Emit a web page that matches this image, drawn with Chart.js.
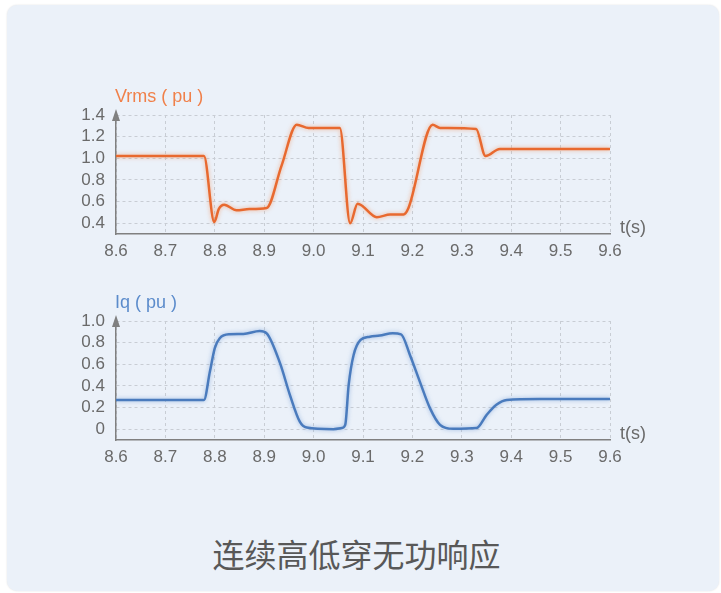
<!DOCTYPE html>
<html>
<head>
<meta charset="utf-8">
<script src="https://cdn.jsdelivr.net/npm/chart.js@4"></script>
<style>
  body { margin: 0; background: #fff; width: 721px; height: 593px; position: relative; overflow: hidden; }
  .card { position: absolute; left: 7px; top: 5px; width: 712px; height: 586px; background: #ebf1f9;
          border-radius: 10px; box-shadow: 0 0 2px rgba(0,0,0,0.12); }
  .box { position: absolute; left: 0; width: 721px; height: 190px; }
  .caption { position: absolute; left: 0; width: 713px; top: 530px; text-align: center; line-height: 44px;
             font: 32px "Noto Sans CJK SC", sans-serif; color: #585858; }
</style>
</head>
<body>
<div class="card"></div>
<div class="box" style="top:80px"><canvas id="vrmsChart"></canvas></div>
<div class="box" style="top:285px"><canvas id="iqChart"></canvas></div>
<div class="caption">连续高低穿无功响应</div>
<script>
// time axis
const xTicks = [8.6, 8.7, 8.8, 8.9, 9.0, 9.1, 9.2, 9.3, 9.4, 9.5, 9.6]

// Vrms (pu)
const vrmsT = [8.6, 8.778, 8.799, 8.808, 8.819, 8.844, 8.87, 8.905, 8.935, 8.966, 8.99, 9.053, 9.074, 9.089, 9.128, 9.155, 9.182, 9.192, 9.241, 9.256, 9.329, 9.348, 9.377, 9.6]
const vrmsV = [1.02, 1.02, 0.41, 0.53, 0.57, 0.52, 0.53, 0.54, 0.93, 1.31, 1.28, 1.28, 0.40, 0.58, 0.455, 0.48, 0.48, 0.54, 1.31, 1.28, 1.27, 1.02, 1.086, 1.086]
const vrmsTicks = [0.4, 0.6, 0.8, 1.0, 1.2, 1.4]
const vrmsTickLabels = ['0.4', '0.6', '0.8', '1.0', '1.2', '1.4']

// Iq (pu)
const iqT = [8.6, 8.778, 8.79, 8.8, 8.81, 8.83, 8.858, 8.891, 8.905, 8.932, 8.952, 8.972, 8.986, 9.04, 9.057, 9.064, 9.071, 9.081, 9.095, 9.114, 9.134, 9.16, 9.177, 9.195, 9.215, 9.236, 9.256, 9.283, 9.33, 9.35, 9.37, 9.391, 9.458, 9.6]
const iqV = [0.27, 0.27, 0.53, 0.75, 0.84, 0.877, 0.88, 0.908, 0.886, 0.61, 0.317, 0.07, 0.015, 0.0, 0.01, 0.04, 0.41, 0.686, 0.825, 0.855, 0.865, 0.886, 0.877, 0.686, 0.44, 0.19, 0.04, 0.003, 0.01, 0.13, 0.225, 0.27, 0.28, 0.28]
const iqTicks = [0, 0.2, 0.4, 0.6, 0.8, 1.0]
const iqTickLabels = ['0', '0.2', '0.4', '0.6', '0.8', '1.0']

const FONT = '"Liberation Sans", Arial, sans-serif'
const TEXT = '#6a6a6a'

// draws the y-axis arrow, the title above it, the t(s) label and a soft glow on the line
const decor = {
    id: 'decor',
    beforeDatasetsDraw(chart) {
        const ctx = chart.ctx
        ctx.save()
        ctx.shadowColor = chart.options.plugins.decor.glow
        ctx.shadowBlur = 4
    },
    afterDatasetsDraw(chart) {
        chart.ctx.restore()
    },
    afterDraw(chart) {
        const {ctx, chartArea: {top, bottom, left, right}} = chart
        const o = chart.options.plugins.decor
        ctx.save()
        ctx.fillStyle = '#808080'
        ctx.beginPath()
        ctx.moveTo(left, top - 6)
        ctx.lineTo(left - 4, top + 6)
        ctx.lineTo(left + 4, top + 6)
        ctx.closePath()
        ctx.fill()

        ctx.font = '18px ' + FONT
        ctx.textBaseline = 'middle'
        ctx.fillStyle = o.titleColor
        ctx.fillText(o.title, left - 1, top - 18)

        ctx.fillStyle = TEXT
        ctx.fillText('t(s)', right + 10, bottom - 6)
        ctx.restore()
    }
}

function makeChart(id, t, v, color, titleColor, glow, title, yMin, yMax, yTicks, yLabels, padTop, padBottom) {
    const ctx = document.getElementById(id).getContext('2d')
    return new Chart(ctx, {
        type: 'line',
        data: {
            datasets: [{
                data: t.map((x, i) => ({x: x, y: v[i]})),
                borderColor: color,
                borderWidth: 2.5,
                pointRadius: 0,
                cubicInterpolationMode: 'monotone',
                fill: false
            }]
        },
        options: {
            responsive: false,
            animation: false,
            devicePixelRatio: 1,
            layout: {padding: {left: 72, right: 111, top: padTop, bottom: padBottom}},
            scales: {
                x: {
                    type: 'linear', min: 8.6, max: 9.6,
                    afterBuildTicks: s => { s.ticks = xTicks.map(x => ({value: x})) },
                    afterFit: s => { s.height = 30 },
                    grid: {color: '#c8cdd4', lineWidth: 1, drawTicks: false},
                    border: {display: true, color: '#808080', width: 1.5, dash: [3, 3]},
                    ticks: {
                        padding: 7, color: TEXT, font: {family: FONT, size: 17},
                        maxRotation: 0, autoSkip: false,
                        callback: val => val.toFixed(1)
                    }
                },
                y: {
                    min: yMin, max: yMax,
                    afterBuildTicks: s => { s.ticks = yTicks.map(y => ({value: y})) },
                    afterFit: s => { s.width = 44 },
                    grid: {color: '#c8cdd4', lineWidth: 1, drawTicks: false},
                    border: {display: true, color: '#808080', width: 1.5, dash: [3, 3]},
                    ticks: {
                        padding: 11, color: TEXT, font: {family: FONT, size: 17},
                        callback: (val, i) => yLabels[i]
                    }
                }
            },
            plugins: {
                legend: {display: false},
                tooltip: {enabled: false},
                decor: {title: title, titleColor: titleColor, glow: glow}
            }
        },
        plugins: [decor]
    })
}

for (const id of ['vrmsChart', 'iqChart']) {
    const c = document.getElementById(id)
    c.width = 721
    c.height = 190
}

makeChart('vrmsChart', vrmsT, vrmsV, '#e8692f', '#f0804a', 'rgba(240,150,100,0.7)', 'Vrms ( pu )', 0.3, 1.4, vrmsTicks, vrmsTickLabels, 35, 6)
makeChart('iqChart', iqT, iqV, '#4a7bbd', '#5b8bcb', 'rgba(120,160,215,0.7)', 'Iq ( pu )', -0.1, 1.0, iqTicks, iqTickLabels, 36, 5)
</script>
</body>
</html>
